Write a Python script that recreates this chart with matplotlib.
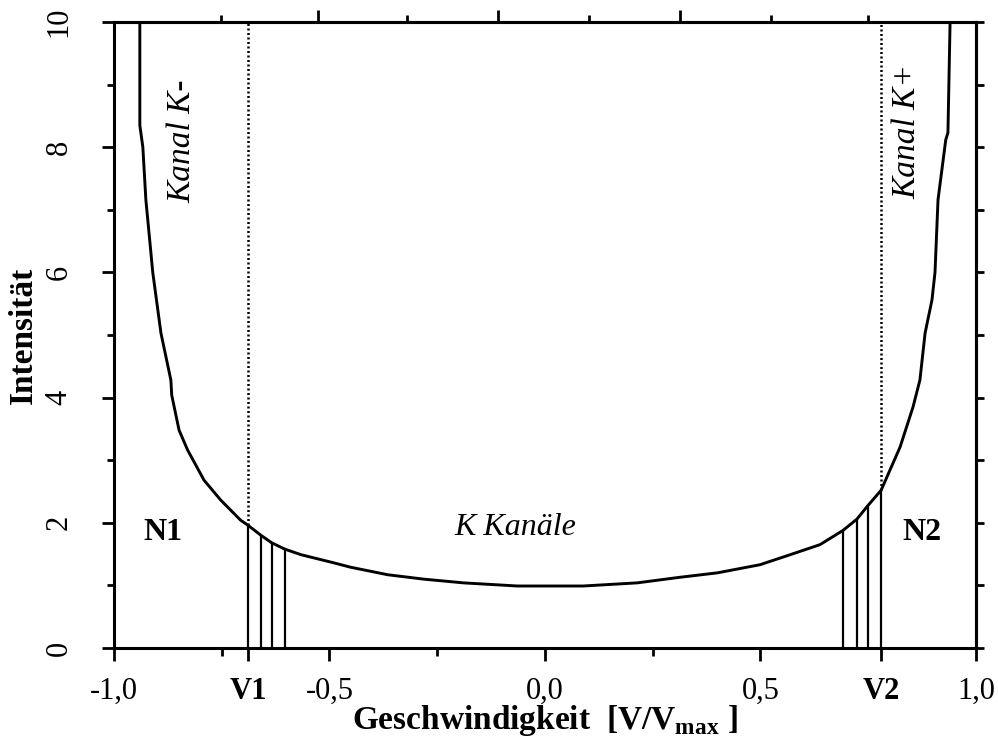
import matplotlib
matplotlib.use("Agg")
import matplotlib.pyplot as plt
import numpy as np

plt.rcParams['font.family'] = ['Liberation Serif', 'DejaVu Serif']
plt.rcParams['mathtext.fontset'] = 'custom'
plt.rcParams['mathtext.rm'] = 'Liberation Serif'
plt.rcParams['mathtext.bf'] = 'Liberation Serif:bold'

# intensity curve
curve_x = [-0.940, -0.940, -0.933, -0.926, -0.910, -0.891, -0.868, -0.866, -0.849,
           -0.829, -0.791, -0.752, -0.706, -0.689, -0.659, -0.634, -0.604, -0.566,
           -0.490, -0.451, -0.365, -0.282, -0.189, -0.064, 0.089, 0.214, 0.314,
           0.400, 0.499, 0.569, 0.638, 0.692, 0.724, 0.750, 0.780, 0.824, 0.854,
           0.870, 0.882, 0.898, 0.905, 0.912, 0.930, 0.935, 0.940]
curve_y = [10.0, 8.35, 8.0, 7.16, 6.0, 5.03, 4.28, 4.04, 3.48,
           3.16, 2.68, 2.36, 2.04, 1.96, 1.80, 1.68, 1.58, 1.49,
           1.36, 1.29, 1.17, 1.10, 1.04, 0.99, 0.99, 1.04, 1.13,
           1.20, 1.33, 1.49, 1.65, 1.88, 2.06, 2.28, 2.52, 3.21, 3.85,
           4.28, 5.03, 5.56, 6.0, 7.16, 8.12, 8.23, 10.0]

# channel lines under the curve
left_x = [-0.689, -0.659, -0.634, -0.604]
left_y = [1.96, 1.80, 1.68, 1.58]
right_x = [0.692, 0.724, 0.750, 0.780]
right_y = [1.88, 2.06, 2.28, 2.52]

V1 = -0.689
V2 = 0.780

xticks = [-1.0, -0.5, 0.0, 0.5, 1.0, V1, V2]
xticklabels = ['-1,0', '-0,5', '0,0', '0,5', '1,0', 'V1', 'V2']
yticks = [0, 2, 4, 6, 8, 10]

fig = plt.figure(figsize=(9.98, 7.43), dpi=100)
ax = fig.add_axes([0.1142, 0.1279, 0.8637, 0.8425])

ax.plot(curve_x, curve_y, color='black', lw=2.1)
ax.vlines(left_x, 0, left_y, color='black', lw=1.6)
ax.vlines(right_x, 0, right_y, color='black', lw=1.6)
ax.vlines([V1, V2], [left_y[0], right_y[-1]], 10, color='black', lw=1.8,
          linestyles=(0, (0.8, 1.0)))

ax.set_xlim(-1.0, 1.0)
ax.set_ylim(0, 10)

for s in ax.spines.values():
    s.set_linewidth(2.2)

ax.set_xticks(xticks, labels=xticklabels, fontsize=22)
ax.set_xticks([-0.75, -0.25, 0.25], minor=True)
for lab in ax.get_xticklabels():
    if lab.get_text().startswith('V'):
        lab.set_fontweight('bold')
ax.tick_params(axis='x', which='major', direction='out', length=9, width=2, pad=12)
ax.tick_params(axis='x', which='minor', direction='out', length=6, width=2)

ax.set_yticks(yticks, labels=[str(v) for v in yticks], fontsize=22, rotation=90,
              va='center')
ax.set_yticks([1, 3, 5, 7, 9], minor=True)
ax.tick_params(axis='y', which='major', direction='out', length=9, width=2, pad=20)
ax.tick_params(axis='y', which='minor', direction='out', length=5, width=2)

top = ax.secondary_xaxis('top')
top.set_xticks([-0.527, -0.108, 0.314], labels=[])
top.set_xticks([-0.752, -0.319, 0.103, 0.525, 0.750], minor=True)
top.tick_params(which='major', direction='out', length=9, width=2)
top.tick_params(which='minor', direction='out', length=5, width=2)
top.spines['top'].set_linewidth(2.2)

right = ax.secondary_yaxis('right')
right.set_yticks(np.arange(0, 11), labels=[])
right.tick_params(direction='out', length=6, width=2)
right.spines['right'].set_linewidth(2.2)

ax.set_ylabel('Intensität', fontsize=24, fontweight='bold', labelpad=4)
ax.set_xlabel(r'Geschwindigkeit  [V/V$_{\mathbf{max}}$ ]', fontsize=24,
              fontweight='bold', labelpad=-2)

ax.text(-0.886, 1.85, 'N1', fontsize=23, fontweight='bold', ha='center', va='center')
ax.text(0.875, 1.85, 'N2', fontsize=23, fontweight='bold', ha='center', va='center')
ax.text(-0.068, 1.93, 'K Kanäle', fontsize=23, style='italic', ha='center', va='center')
ax.text(-0.841, 8.1, 'Kanal K-', fontsize=24, style='italic', rotation=90,
        ha='center', va='center')
ax.text(0.84, 8.25, 'Kanal K+', fontsize=24, style='italic', rotation=90,
        ha='center', va='center')

fig.savefig('out.png', dpi=100)
